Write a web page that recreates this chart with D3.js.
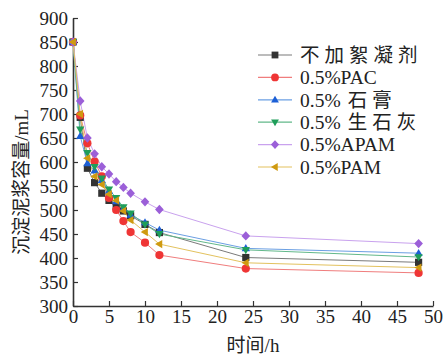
<!DOCTYPE html>
<html><head><meta charset="utf-8">
<script src="https://cdn.jsdelivr.net/npm/d3@7"></script>
<style>
html,body{margin:0;padding:0;background:#fff;}
svg{display:block;}
text{font-family:"Liberation Serif","Noto Sans CJK SC",serif;fill:#222;}
</style></head><body>
<svg id="c" width="447" height="358"></svg>
<script>
const hours = [0, 1, 2, 3, 4, 5, 6, 7, 8, 10, 12, 24, 48];
const seriesNames = ["不加絮凝剂", "0.5%PAC", "0.5% 石膏", "0.5% 生石灰", "0.5%APAM", "0.5%PAM"];
const noFlocculant = [850, 693, 587, 557, 535, 520, 508, 498, 488, 470, 453, 401, 391];
const pac          = [850, 697, 639, 601, 570, 525, 500, 477, 454, 432, 406, 378, 369];
const gypsum       = [850, 654, 597, 582, 562, 540, 518, 503, 490, 474, 458, 420, 410];
const quicklime    = [850, 668, 619, 590, 566, 543, 525, 506, 493, 470, 450, 417, 402];
const apam         = [850, 727, 650, 617, 590, 575, 559, 547, 535, 517, 501, 446, 430];
const pam          = [850, 700, 608, 570, 553, 533, 520, 498, 479, 454, 429, 390, 380];
const xTicks = [0, 5, 10, 15, 20, 25, 30, 35, 40, 45, 50];
const yTicks = [300, 350, 400, 450, 500, 550, 600, 650, 700, 750, 800, 850, 900];

const seriesValues = [noFlocculant, pac, gypsum, quicklime, apam, pam];
const markerColors = ["#333333", "#ef3535", "#1c5fd6", "#1f9e5a", "#9b5fd8", "#cf9a10"];
const lineColors   = ["#7a7a7a", "#f07d7d", "#6b9fe3", "#62b88a", "#c9a2ee", "#e3c25e"];
const symbols = ["square", "circle", "up", "down", "diamond", "left"];

const svg = d3.select("#c");
const x = d3.scaleLinear().domain([0, 50]).range([73, 433]);
const y = d3.scaleLinear().domain([300, 900]).range([306, 18]);

function sym(type, s) {
  if (type === "square") return `M${-s},${-s}H${s}V${s}H${-s}Z`;
  if (type === "circle") return d3.symbol(d3.symbolCircle, Math.PI * s * s * 1.3)();
  if (type === "up") return `M0,${-s*1.2}L${s*1.15},${s*0.8}L${-s*1.15},${s*0.8}Z`;
  if (type === "down") return `M0,${s*1.2}L${s*1.15},${-s*0.8}L${-s*1.15},${-s*0.8}Z`;
  if (type === "diamond") return `M0,${-s*1.3}L${s*1.2},0L0,${s*1.3}L${-s*1.2},0Z`;
  if (type === "left") return `M${-s*1.2},0L${s*0.8},${-s*1.15}L${s*0.8},${s*1.15}Z`;
}

// axes
const xAxis = d3.axisBottom(x).tickValues(xTicks).tickSizeInner(-5).tickSizeOuter(0).tickPadding(4);
const yAxis = d3.axisLeft(y).tickValues(yTicks).tickSizeInner(-5).tickSizeOuter(0).tickPadding(5);
const gx = svg.append("g").attr("transform", "translate(0,306)").call(xAxis);
const gy = svg.append("g").attr("transform", "translate(73,0)").call(yAxis);
[gx, gy].forEach(g => {
  g.select(".domain").attr("stroke", "#333").attr("stroke-width", 1.6);
  g.selectAll(".tick line").attr("stroke", "#333").attr("stroke-width", 1.2);
  g.selectAll(".tick text").style("font-size", "19px").attr("fill", "#222")
    .style("font-family", '"Liberation Serif",serif');
});

// lines & markers
const line = d3.line().x((d, i) => x(hours[i])).y(d => y(d));
seriesValues.forEach((vals, k) => {
  svg.append("path").datum(vals).attr("d", line)
    .attr("fill", "none").attr("stroke", lineColors[k]).attr("stroke-width", 1);
});
seriesValues.forEach((vals, k) => {
  svg.append("g").selectAll("path").data(vals).join("path")
    .attr("transform", (d, i) => `translate(${x(hours[i])},${y(d)})`)
    .attr("d", sym(symbols[k], 3.6))
    .attr("fill", markerColors[k]);
});

// legend
const lg = svg.append("g");
seriesNames.forEach((name, k) => {
  const yy = 55 + k * 22.4;
  lg.append("line").attr("x1", 258).attr("x2", 292).attr("y1", yy).attr("y2", yy)
    .attr("stroke", lineColors[k]).attr("stroke-width", 1.2);
  lg.append("path").attr("transform", `translate(275,${yy})`).attr("d", sym(symbols[k], 3.4))
    .attr("fill", markerColors[k]);
  const t = lg.append("text").attr("x", 300).attr("y", yy).attr("dy", "0.35em")
    .style("font-size", "19.5px");
  const parts = name.match(/[\u4e00-\u9fff]+|[^\u4e00-\u9fff]+/g);
  parts.forEach(p => {
    const cjk = /[\u4e00-\u9fff]/.test(p);
    t.append("tspan").style("letter-spacing", cjk ? "5px" : "0px")
      .attr("dx", cjk && p !== name ? 7 : 0).text(p.trim());
  });
});

// axis titles
svg.append("text").attr("x", 253).attr("y", 352).attr("text-anchor", "middle")
  .style("font-size", "19px").text("时间/h");
svg.append("text").attr("transform", "translate(28,182) rotate(-90)").attr("text-anchor", "middle")
  .style("font-size", "19px").text("沉淀泥浆容量/mL");
</script>
</body></html>
